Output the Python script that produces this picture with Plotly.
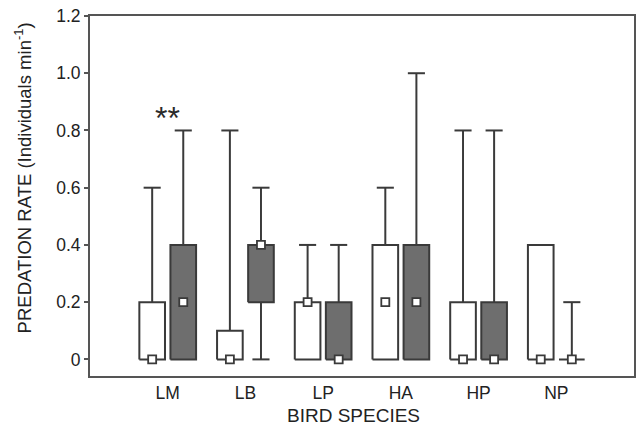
import plotly.graph_objects as go

# ---- data ----
species = ["LM", "LB", "LP", "HA", "HP", "NP"]

white_q1 = [0, 0, 0, 0, 0, 0]
white_q3 = [0.2, 0.1, 0.2, 0.4, 0.2, 0.4]
white_med = [0, 0, 0.2, 0.2, 0, 0]
white_lo = [0, 0, 0, 0, 0, 0]
white_hi = [0.6, 0.8, 0.4, 0.6, 0.8, 0.4]

grey_q1 = [0, 0.2, 0, 0, 0, 0]
grey_q3 = [0.4, 0.4, 0.2, 0.4, 0.2, 0]
grey_med = [0.2, 0.4, 0, 0.2, 0, 0]
grey_lo = [0, 0, 0, 0, 0, 0]
grey_hi = [0.8, 0.6, 0.4, 1.0, 0.8, 0.2]

yticks = [0, 0.2, 0.4, 0.6, 0.8, 1.0, 1.2]
ytick_text = ["0", "0.2", "0.4", "0.6", "0.8", "1.0", "1.2"]

# ---- style ----
LINE = "#3a3a3a"
GREY = "#6e6e6e"
BOX_W = 0.33
CAP_W = 0.22
OFFSET = 0.2
FONT = "Liberation Sans, Arial, sans-serif"

fig = go.Figure()


def add_group(q1, q3, med, lo, hi, off, fill):
    # whiskers and caps
    wx, wy = [], []
    for i in range(len(species)):
        xc = i + off
        if hi[i] > q3[i]:
            wx += [xc, xc, None, xc - CAP_W / 2, xc + CAP_W / 2, None]
            wy += [q3[i], hi[i], None, hi[i], hi[i], None]
        if lo[i] < q1[i]:
            wx += [xc, xc, None, xc - CAP_W / 2, xc + CAP_W / 2, None]
            wy += [q1[i], lo[i], None, lo[i], lo[i], None]
    fig.add_trace(go.Scatter(x=wx, y=wy, mode="lines",
                             line=dict(color=LINE, width=2),
                             hoverinfo="skip", showlegend=False))
    # boxes
    bx, by = [], []
    for i in range(len(species)):
        xc = i + off
        x0, x1 = xc - BOX_W / 2, xc + BOX_W / 2
        bx += [x0, x1, x1, x0, x0, None]
        by += [q1[i], q1[i], q3[i], q3[i], q1[i], None]
    fig.add_trace(go.Scatter(x=bx, y=by, mode="lines", fill="toself",
                             fillcolor=fill,
                             line=dict(color=LINE, width=2),
                             hoverinfo="skip", showlegend=False))
    # medians
    fig.add_trace(go.Scatter(x=[i + off for i in range(len(species))], y=med,
                             mode="markers",
                             marker=dict(symbol="square", size=8, color="white",
                                         line=dict(color=LINE, width=1.8)),
                             hoverinfo="skip", showlegend=False))


add_group(white_q1, white_q3, white_med, white_lo, white_hi, -OFFSET, "white")
add_group(grey_q1, grey_q3, grey_med, grey_lo, grey_hi, OFFSET, GREY)

fig.add_annotation(x=0, y=0.845, xref="x", yref="y", text="**", showarrow=False,
                   font=dict(family=FONT, size=32, color="#2a2a2a"))

fig.add_annotation(x=0.4835, y=-0.144, xref="paper", yref="paper",
                   text="BIRD SPECIES", showarrow=False,
                   font=dict(family=FONT, size=19, color="#222"),
                   xanchor="center", yanchor="bottom")
fig.add_annotation(x=-0.1227, y=0.5496, xref="paper", yref="paper",
                   text="PREDATION RATE (Individuals min<sup>-1</sup>)",
                   showarrow=False, textangle=-90,
                   font=dict(family=FONT, size=18.5, color="#222"),
                   xanchor="center", yanchor="middle")

fig.update_layout(
    width=637, height=429,
    margin=dict(l=90, r=1, t=16, b=53),
    paper_bgcolor="white", plot_bgcolor="white",
    font=dict(family=FONT, size=17.5, color="#222"),
    xaxis=dict(range=[-1, 6], tickvals=list(range(len(species))), ticktext=species,
               showgrid=False, zeroline=False, showline=True, linecolor="#555",
               linewidth=1.8, mirror=True, ticks="", fixedrange=True),
    yaxis=dict(range=[-0.058, 1.2], tickvals=yticks, ticktext=ytick_text,
               showgrid=False, zeroline=False, showline=True, linecolor="#555",
               linewidth=1.8, mirror=True, ticks="outside", ticklen=4,
               tickcolor="#555", tickwidth=1.8, fixedrange=True),
)

fig.write_html("out.html")
